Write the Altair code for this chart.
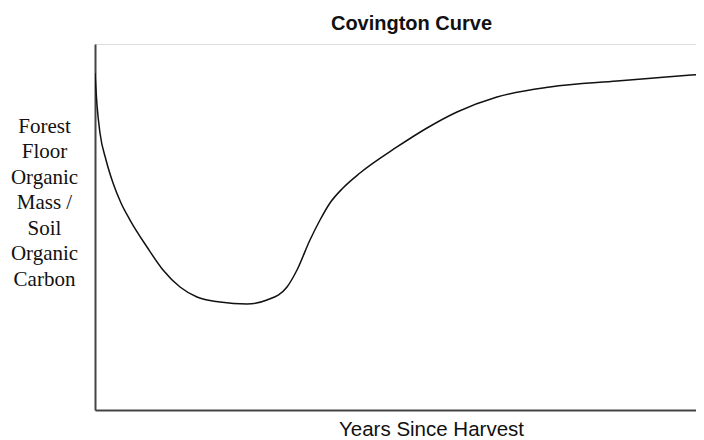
import altair as alt
import pandas as pd

# Curve (x: share of time since harvest, y: relative organic mass)
years = [0, 0.33, 0.82, 1.81, 2.96, 4.27, 5.75, 8.54, 11.17, 13.96, 16.75, 20.53,
         24.96, 28.24, 31.53, 33.17, 35.30, 36.95, 38.59, 40.72, 43.51, 49.59,
         54.52, 59.44, 66.01, 74.71, 85.71, 92.77, 100]
mass = [92.08, 83.33, 75.68, 68.31, 62.02, 56.56, 51.91, 44.54, 38.25, 33.61, 30.87,
        29.51, 28.96, 30.05, 33.61, 38.25, 46.45, 51.91, 56.56, 60.66, 64.75, 71.86,
        77.05, 81.42, 85.52, 88.25, 89.89, 90.85, 91.80]

y_title = ["Forest", "Floor", "Organic", "Mass /", "Soil", "Organic", "Carbon"]

df = pd.DataFrame({"years": years, "mass": mass})

chart = alt.Chart(df).mark_line(
    interpolate="monotone", color="#111111", strokeWidth=1.5, clip=True
).encode(
    x=alt.X("years:Q",
            scale=alt.Scale(domain=[0, 98.69], nice=False),
            axis=alt.Axis(title="Years Since Harvest", labels=False, ticks=False,
                          grid=False, domainColor="#444444", domainWidth=2,
                          titleFont="Liberation Sans", titleFontSize=20.5,
                          titleFontWeight="normal", titleColor="#111111",
                          titleX=336, titleY=25, titleAlign="center",
                          titleBaseline="alphabetic")),
    y=alt.Y("mass:Q",
            scale=alt.Scale(domain=[0, 100], nice=False),
            axis=alt.Axis(title=y_title, labels=False, ticks=False, grid=False,
                          domainColor="#444444", domainWidth=2,
                          titleFont="Liberation Serif", titleFontSize=21,
                          titleFontWeight="normal", titleColor="#111111",
                          titleAngle=0, titleX=-51, titleY=88,
                          titleAlign="center", titleBaseline="alphabetic",
                          titleLineHeight=25.55)),
).properties(
    width=601,
    height=366,
    title=alt.TitleParams("Covington Curve", font="Liberation Sans", fontSize=20,
                          fontWeight="bold", color="#111111", anchor="middle",
                          dx=16, dy=22, offset=16, baseline="alphabetic"),
    autosize=alt.AutoSizeParams(type="none"),
    padding={"left": 87, "top": 36, "right": 0, "bottom": 30},
).configure_view(stroke="transparent", strokeWidth=0).configure(background="white")

chart.save("out.html", embed_options={"renderer": "svg", "actions": False})
